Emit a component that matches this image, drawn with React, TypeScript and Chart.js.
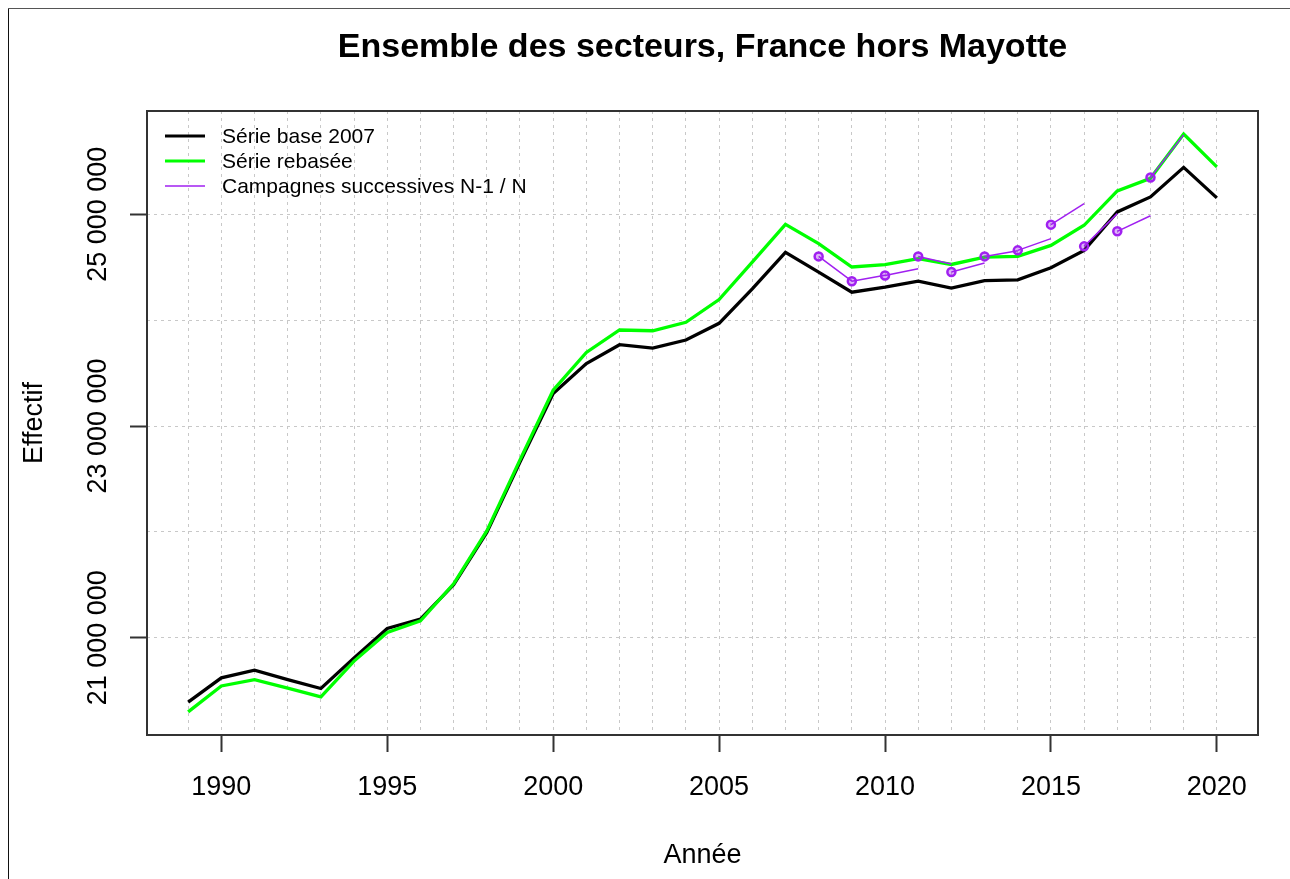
import React, { useEffect, useRef } from "react";
import { Chart, registerables } from "chart.js";

Chart.register(...registerables);

// ---------- Data ----------
const years = [
  1989, 1990, 1991, 1992, 1993, 1994, 1995, 1996, 1997, 1998, 1999, 2000, 2001,
  2002, 2003, 2004, 2005, 2006, 2007, 2008, 2009, 2010, 2011, 2012, 2013, 2014,
  2015, 2016, 2017, 2018, 2019, 2020,
];

const serieBase2007 = [
  20393000, 20621000, 20694000, 20605000, 20521000, 20810000, 21088000, 21177000,
  21500000, 21995000, 22660000, 23306000, 23590000, 23768000, 23736000, 23812000,
  23970000, 24296000, 24640000, 24453000, 24264000, 24311000, 24368000, 24302000,
  24374000, 24381000, 24495000, 24659000, 25022000, 25164000, 25443000, 25155000,
];

const serieRebasee = [
  20300000, 20545000, 20605000, 20525000, 20441000, 20780000, 21050000, 21160000,
  21510000, 22010000, 22680000, 23338000, 23695000, 23907000, 23900000, 23980000,
  24194000, 24548000, 24905000, 24722000, 24502000, 24524000, 24580000, 24526000,
  24595000, 24602000, 24706000, 24896000, 25221000, 25340000, 25757000, 25448000,
];

// Campagnes successives N-1 / N : year N-1, value at N-1, value at N
const campagneAnnees = [2008, 2009, 2010, 2011, 2012, 2013, 2014, 2015, 2016, 2017, 2018];
const campagneValeurN1 = [
  24602000, 24368000, 24422000, 24602000, 24455000, 24602000, 24659000, 24902000,
  24697000, 24839000, 25348000,
];
const campagneValeurN = [
  24368000, 24425000, 24485000, 24530000, 24540000, 24655000, 24770000, 25100000,
  25006000, 24986000, 25750000,
];

const xTickLabels = [1990, 1995, 2000, 2005, 2010, 2015, 2020];
const yTickLabels = [21000000, 23000000, 25000000];
const yGridValues = [21000000, 22000000, 23000000, 24000000, 25000000];

const titleText = "Ensemble des secteurs, France hors Mayotte";
const xTitle = "Année";
const yTitle = "Effectif";
const legendLabels = ["Série base 2007", "Série rebasée", "Campagnes successives N-1 / N"];
const legendColors = ["#000000", "#00FF00", "#A020F0"];

// ---------- Helpers ----------
const FONT = "'Liberation Sans', Arial, sans-serif";
const fmt = (v: number) => String(v).replace(/\B(?=(\d{3})+(?!\d))/g, " ");

const allValues = [...serieBase2007, ...serieRebasee, ...campagneValeurN1, ...campagneValeurN];
const dataMin = Math.min(...allValues);
const dataMax = Math.max(...allValues);
const yPad = (dataMax - dataMin) * 0.04;
const xPad = (years[years.length - 1] - years[0]) * 0.04;

const decor = {
  id: "decor",
  afterDraw(chart: any) {
    const { ctx, chartArea: a, scales } = chart;
    ctx.save();
    // plot frame
    ctx.strokeStyle = "#333";
    ctx.lineWidth = 2;
    ctx.strokeRect(a.left, a.top, a.right - a.left, a.bottom - a.top);

    ctx.fillStyle = "#000";
    const cx = (a.left + a.right) / 2;
    // title
    ctx.font = `bold 34px ${FONT}`;
    ctx.textAlign = "center";
    ctx.textBaseline = "alphabetic";
    ctx.fillText(titleText, cx, 48);
    // x axis title
    ctx.font = `27px ${FONT}`;
    ctx.fillText(xTitle, cx, 854);
    // y axis title
    ctx.save();
    ctx.translate(33, (a.top + a.bottom) / 2);
    ctx.rotate(-Math.PI / 2);
    ctx.fillText(yTitle, 0, 0);
    ctx.restore();
    // y tick labels
    yTickLabels.forEach((v) => {
      const py = scales.y.getPixelForValue(v);
      ctx.save();
      ctx.translate(97, py);
      ctx.rotate(-Math.PI / 2);
      ctx.fillText(fmt(v), 0, 0);
      ctx.restore();
    });
    // legend
    const rows = [127, 152, 177];
    const widths = [3, 3, 1.5];
    ctx.font = `21px ${FONT}`;
    ctx.textAlign = "left";
    ctx.textBaseline = "middle";
    legendLabels.forEach((lab, i) => {
      ctx.strokeStyle = legendColors[i];
      ctx.lineWidth = widths[i];
      ctx.beginPath();
      ctx.moveTo(156, rows[i]);
      ctx.lineTo(196, rows[i]);
      ctx.stroke();
      ctx.fillStyle = "#000";
      ctx.fillText(lab, 213, rows[i] + 1);
    });
    ctx.restore();
  },
};

export default function App() {
  const ref = useRef<HTMLCanvasElement>(null);

  useEffect(() => {
    document.documentElement.style.overflow = "hidden";
    Chart.defaults.font.family = FONT;
    const canvas = ref.current!;

    const campagneDatasets = campagneAnnees.map((yr, i) => ({
      label: "camp" + yr,
      data: [
        { x: yr, y: campagneValeurN1[i] },
        { x: yr + 1, y: campagneValeurN[i] },
      ],
      borderColor: legendColors[2],
      backgroundColor: "rgba(160,32,240,0.35)",
      borderWidth: 1.5,
      pointRadius: (c: any) => (c.dataIndex === 0 ? 4 : 0),
      pointBorderWidth: 2.5,
      pointBorderColor: legendColors[2],
      tension: 0,
      order: 1,
    }));

    const chart = new Chart(canvas, {
      type: "line",
      data: {
        datasets: [
          {
            label: legendLabels[0],
            data: years.map((x, i) => ({ x, y: serieBase2007[i] })),
            borderColor: legendColors[0],
            borderWidth: 3.3,
            pointRadius: 0,
            tension: 0,
            order: 3,
          },
          {
            label: legendLabels[1],
            data: years.map((x, i) => ({ x, y: serieRebasee[i] })),
            borderColor: legendColors[1],
            borderWidth: 3.3,
            pointRadius: 0,
            tension: 0,
            order: 2,
          },
          ...campagneDatasets,
        ] as any,
      },
      options: {
        responsive: false,
        animation: false,
        devicePixelRatio: 1,
        layout: { padding: { left: 0, right: 32, top: 102, bottom: 44 } },
        plugins: {
          legend: { display: false },
          title: { display: false },
          tooltip: { enabled: false },
        },
        scales: {
          x: {
            type: "linear",
            min: years[0] - xPad,
            max: years[years.length - 1] + xPad,
            afterBuildTicks: (s: any) => {
              s.ticks = years.map((v) => ({ value: v }));
            },
            afterFit: (s: any) => {
              s.height = 100;
            },
            ticks: {
              autoSkip: false,
              maxRotation: 0,
              minRotation: 0,
              padding: 19,
              color: "#000",
              font: { size: 27, family: FONT },
              callback: (v: any) => (xTickLabels.includes(Number(v)) ? String(v) : ""),
            },
            grid: {
              color: "#c8c8c8",
              lineWidth: 1,
              tickLength: 17,
              tickWidth: 2,
              tickColor: (c: any) =>
                c.tick && xTickLabels.includes(c.tick.value) ? "#333" : "rgba(0,0,0,0)",
              tickBorderDash: [],
            },
            border: { display: false, dash: [3, 4] },
          },
          y: {
            type: "linear",
            min: dataMin - yPad,
            max: dataMax + yPad,
            afterBuildTicks: (s: any) => {
              s.ticks = yGridValues.map((v) => ({ value: v }));
            },
            afterFit: (s: any) => {
              s.width = 138;
            },
            ticks: { display: false },
            grid: {
              color: "#c8c8c8",
              lineWidth: 1,
              tickLength: 17,
              tickWidth: 2,
              tickColor: (c: any) =>
                c.tick && yTickLabels.includes(c.tick.value) ? "#333" : "rgba(0,0,0,0)",
              tickBorderDash: [],
            },
            border: { display: false, dash: [3, 4] },
          },
        },
      } as any,
      plugins: [decor],
    });
    return () => chart.destroy();
  }, []);

  return (
    <div
      style={{
        width: 1281,
        height: 870,
        borderTop: "1px solid #555",
        borderLeft: "1px solid #111",
        background: "#fff",
      }}
    >
      <div
        style={{
          position: "fixed",
          top: 8,
          left: 8,
          right: 0,
          height: 1,
          background: "#555",
        }}
      />
      <canvas ref={ref} width={1281} height={870} style={{ display: "block" }} />
    </div>
  );
}
